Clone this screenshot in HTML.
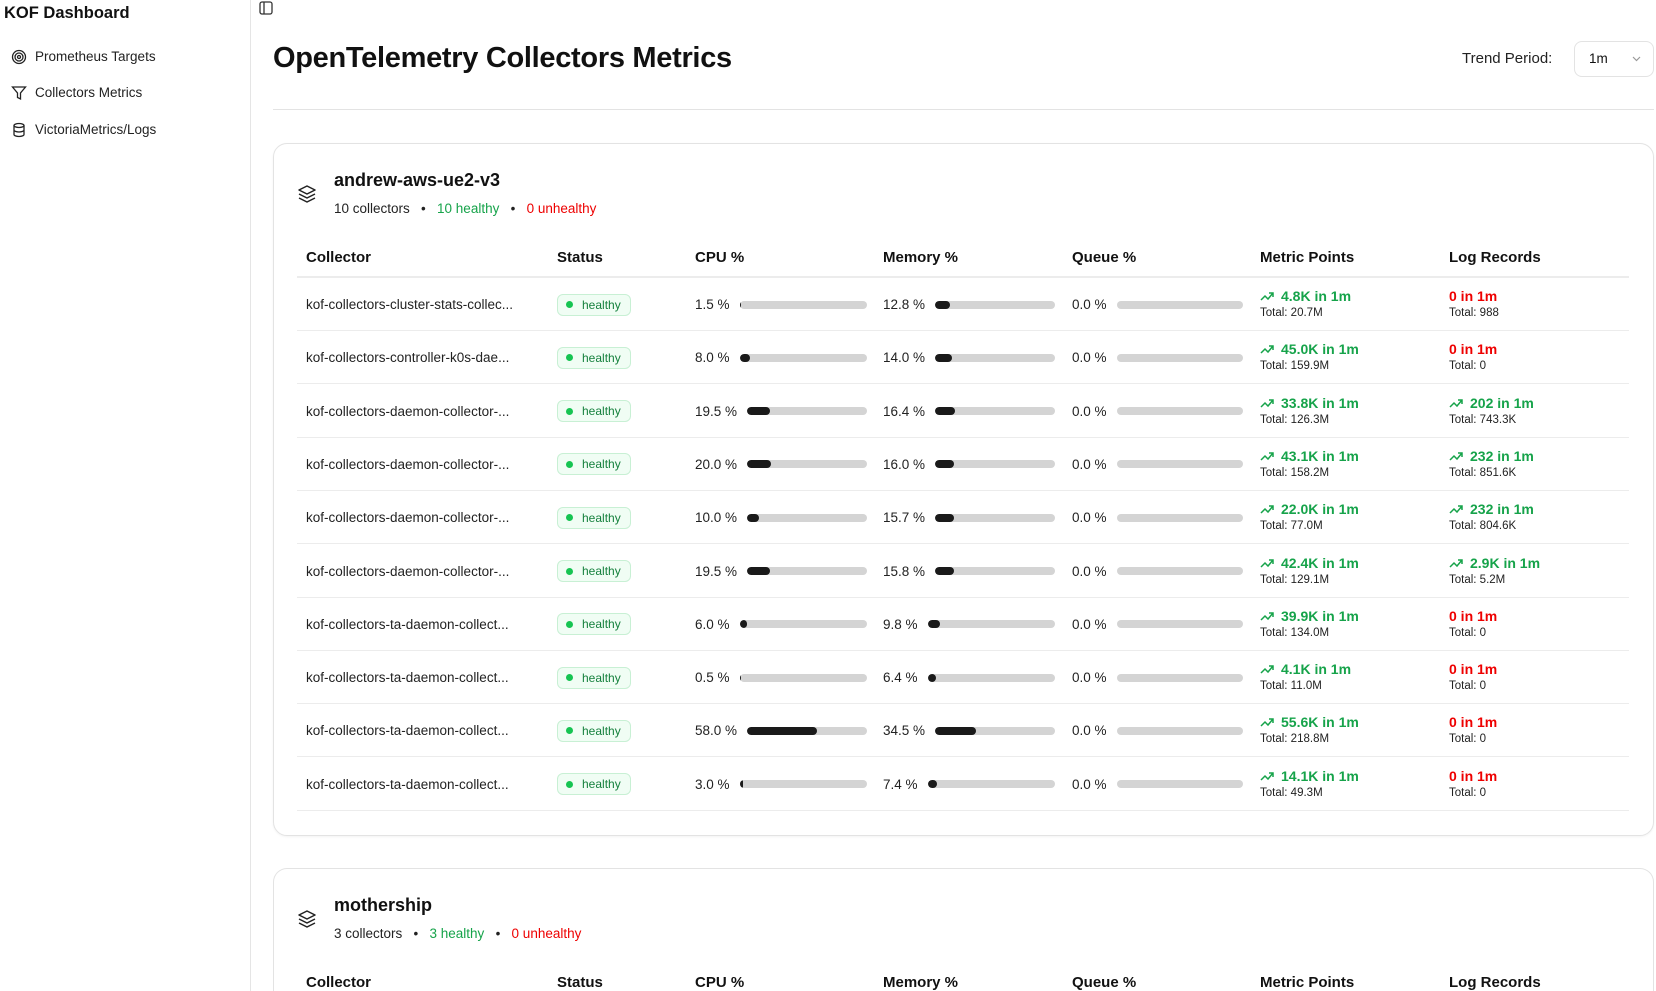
<!DOCTYPE html>
<html style="overflow:hidden;width:1656px;height:991px"><head><meta charset="utf-8"><style>
*{box-sizing:border-box;margin:0;padding:0}
body{width:1656px;height:991px;overflow:hidden;background:#fff;font-family:"Liberation Sans",sans-serif;color:#111;position:relative}
#wrap{position:absolute;left:0;top:0;width:1656px;height:991px;overflow:hidden}
.abs{position:absolute}
.side{position:absolute;left:0;top:0;width:251px;height:991px;border-right:1px solid #e5e5e5}
.nav{position:absolute;left:35px;font-size:13.5px;color:#222}
.navi{position:absolute;left:11px;width:16px;height:16px}
.card{position:absolute;left:273px;width:1381px;border:1px solid #e3e3e3;border-radius:14px;box-shadow:0 1px 2px rgba(0,0,0,.05)}
.hd{position:absolute;font-size:15px;font-weight:bold;color:#111}
.row{position:absolute;left:297px;width:1332px;height:53px;border-bottom:1px solid #ececec}
.c{position:absolute;top:0;height:53px;display:flex;align-items:center;font-size:13.5px;color:#222}
.badge{height:22px;border:1px solid #c8f0d4;background:#f0fdf4;border-radius:6px;color:#15803d;font-size:12px;padding:0 9px 0 8px;display:flex;align-items:center}
.badge i{width:7px;height:7px;border-radius:50%;background:#16c452;margin-right:9px;display:inline-block}
.bar{flex:1;height:8px;background:#d4d4d4;border-radius:4px;margin-left:10px;overflow:hidden}
.bar b{display:block;height:8px;background:#1a1a1a;border-radius:4px}
.m{flex-direction:column;align-items:flex-start;justify-content:center}
.m1{font-size:14px;font-weight:bold;color:#16a34a;line-height:17px}
.m1.r{color:#e00}
.m2{font-size:11.5px;color:#222;line-height:16px}
</style></head><body><div id="wrap">
<div class="side">
<div class="abs" style="left:4px;top:4px;font-size:16.5px;font-weight:bold">KOF Dashboard</div>
<svg class="navi" style="top:49px" viewBox="0 0 16 16" fill="none" stroke="#222" stroke-width="1.3"><circle cx="8" cy="8" r="6.5"/><circle cx="8" cy="8" r="4"/><circle cx="8" cy="8" r="1.5"/></svg>
<div class="nav" style="top:49px">Prometheus Targets</div>
<svg class="navi" style="top:85px" viewBox="0 0 16 16" fill="none" stroke="#222" stroke-width="1.3"><path d="M1.5 2h13l-5 6v6l-3-1.5V8z"/></svg>
<div class="nav" style="top:85px">Collectors Metrics</div>
<svg class="navi" style="top:122px" viewBox="0 0 16 16" fill="none" stroke="#222" stroke-width="1.3"><ellipse cx="8" cy="3.5" rx="5" ry="2"/><path d="M3 3.5v9c0 1.1 2.2 2 5 2s5-.9 5-2v-9M3 8c0 1.1 2.2 2 5 2s5-.9 5-2"/></svg>
<div class="nav" style="top:122px">VictoriaMetrics/Logs</div>
</div>
<svg class="abs" style="left:259px;top:1px" width="14" height="14" viewBox="0 0 14 14" fill="none" stroke="#333" stroke-width="1.3"><rect x="1" y="1" width="12" height="12" rx="2"/><path d="M5 1v12"/></svg>
<div class="abs" style="left:273px;top:42px;font-size:29px;font-weight:bold;letter-spacing:-0.3px">OpenTelemetry Collectors Metrics</div>
<div class="abs" style="left:1462px;top:50px;font-size:15px;color:#222">Trend Period:</div>
<div class="abs" style="left:1574px;top:41px;width:80px;height:36px;border:1px solid #e3e3e3;border-radius:8px;font-size:13.5px;padding:9px 0 0 14px">1m<svg style="position:absolute;right:12px;top:14px" width="9" height="6" viewBox="0 0 9 6" fill="none" stroke="#999" stroke-width="1.2"><path d="M1 1l3.5 3.5L8 1"/></svg></div>
<div class="abs" style="left:273px;top:109px;width:1381px;height:1px;background:#e3e3e3"></div>

<div class="card" style="top:143px;height:693px"></div>
<div class="card" style="top:868px;height:123px;border-bottom:none;border-bottom-left-radius:0;border-bottom-right-radius:0;box-shadow:none"></div>

<div id="c1"></div>
</div>
<script>
function card(top,name,n,h){
 let s='';
 s+=`<svg class="abs" style="left:297px;top:${top+41}px" width="20" height="20" viewBox="0 0 20 20" fill="none" stroke="#222" stroke-width="1.5" stroke-linejoin="round"><path d="M10 2l8 4-8 4-8-4z"/><path d="M2 10l8 4 8-4"/><path d="M2 14l8 4 8-4"/></svg>`;
 s+=`<div class="abs" style="left:334px;top:${top+27}px;font-size:18px;font-weight:bold">${name}</div>`;
 s+=`<div class="abs" style="left:334px;top:${top+58}px;font-size:13.5px;color:#222">${n} collectors &nbsp;&nbsp;•&nbsp;&nbsp; <span style="color:#16a34a">${h} healthy</span> &nbsp;&nbsp;•&nbsp;&nbsp; <span style="color:#e00">0 unhealthy</span></div>`;
 const hx=[306,557,695,883,1072,1260,1449],hn=['Collector','Status','CPU %','Memory %','Queue %','Metric Points','Log Records'];
 hx.forEach((x,i)=>s+=`<div class="hd" style="left:${x}px;top:${top+106}px">${hn[i]}</div>`);
 if(top<500) s+=`<div class="abs" style="left:297px;top:${top+133}px;width:1332px;height:2px;background:#ececec"></div>`;
 return s;
}
const rows=[
['kof-collectors-cluster-stats-collec...',1.5,12.8,'4.8K','20.7M',null,'988'],
['kof-collectors-controller-k0s-dae...',8.0,14.0,'45.0K','159.9M',null,'0'],
['kof-collectors-daemon-collector-...',19.5,16.4,'33.8K','126.3M','202','743.3K'],
['kof-collectors-daemon-collector-...',20.0,16.0,'43.1K','158.2M','232','851.6K'],
['kof-collectors-daemon-collector-...',10.0,15.7,'22.0K','77.0M','232','804.6K'],
['kof-collectors-daemon-collector-...',19.5,15.8,'42.4K','129.1M','2.9K','5.2M'],
['kof-collectors-ta-daemon-collect...',6.0,9.8,'39.9K','134.0M',null,'0'],
['kof-collectors-ta-daemon-collect...',0.5,6.4,'4.1K','11.0M',null,'0'],
['kof-collectors-ta-daemon-collect...',58.0,34.5,'55.6K','218.8M',null,'0'],
['kof-collectors-ta-daemon-collect...',3.0,7.4,'14.1K','49.3M',null,'0']];
const tr='<svg width="14" height="10" viewBox="0 0 14 10" fill="none" stroke="#16a34a" stroke-width="1.5" style="margin-right:7px"><path d="M1 9l4-4 3 3 5-6M9 2h4v4"/></svg>';
function bar(p){return `<div class="bar"><b style="width:${Math.max(p,1.5)}%"></b></div>`}
let s=card(143,'andrew-aws-ue2-v3',10,10);
rows.forEach((r,i)=>{
 const t=278+i*53.3;
 s+=`<div class="row" style="top:${t}px">
<div class="c" style="left:9px">${r[0]}</div>
<div class="c" style="left:260px"><div class="badge"><i></i>healthy</div></div>
<div class="c" style="left:398px;width:172px">${r[1].toFixed(1)} %${bar(r[1])}</div>
<div class="c" style="left:586px;width:172px">${r[2].toFixed(1)} %${bar(r[2])}</div>
<div class="c" style="left:775px;width:171px">0.0 %<div class="bar"></div></div>
<div class="c m" style="left:963px"><div class="m1">${tr}${r[3]} in 1m</div><div class="m2">Total: ${r[4]}</div></div>
<div class="c m" style="left:1152px">${r[5]?`<div class="m1">${tr}${r[5]} in 1m</div>`:`<div class="m1 r">0 in 1m</div>`}<div class="m2">Total: ${r[6]}</div></div>
</div>`;
});
s+=card(868,'mothership',3,3);
document.getElementById('c1').innerHTML=s;
</script>
</body></html>
